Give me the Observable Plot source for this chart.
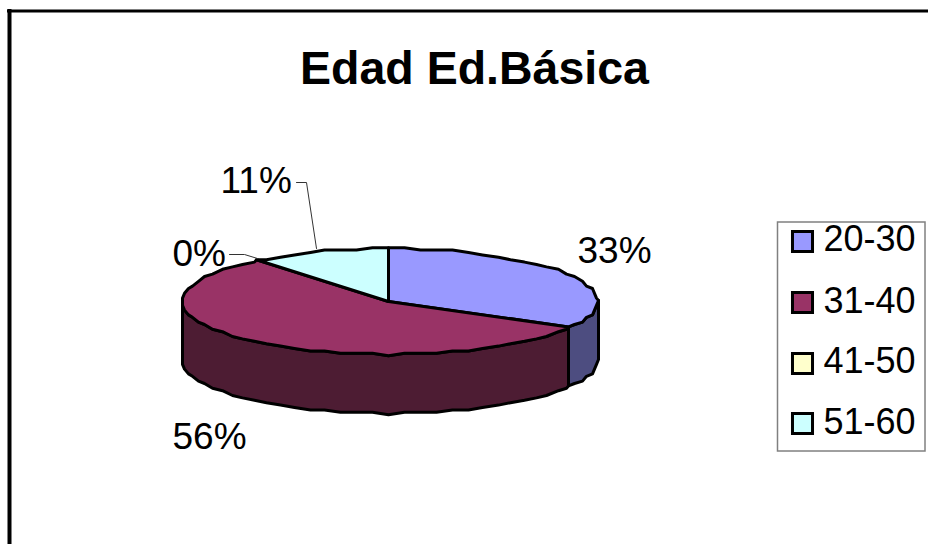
<!DOCTYPE html>
<html>
<head>
<meta charset="utf-8">
<style>html,body{margin:0;padding:0;background:#fff}svg{display:block}</style>
<script src="https://cdn.jsdelivr.net/npm/d3@7"></script>
<script src="https://cdn.jsdelivr.net/npm/@observablehq/plot@0.6"></script>
</head>
<body>
<div id="chart"></div>
<script>
const title = "Edad Ed.Básica";
const ageGroups = ["20-30", "31-40", "41-50", "51-60"];
const counts = [3, 5, 0, 1];

const topColors = ["#9999ff", "#993366", "#ffffcc", "#ccffff"];
const wallColors = ["#4d4d80", "#4d1c33", "#80805f", "#668080"];

// Pie drum geometry, in plot units; the drum sits slightly off its hub
const drum = {cx: 388, cy: 301, rxRight: 209, rxLeft: 206, ry: 53, depth: 59};
const font = "Liberation Sans";

// The outline is a coarse polygon on a rough grid, as in old office-suite charts
const snap = (v, step) => Math.round(v / step) * step;
function rim(deg) {
  const a = deg * Math.PI / 180;
  const sin = Math.sin(a);
  return {
    x: snap(drum.cx + (sin > 0 ? drum.rxRight : drum.rxLeft) * sin, 2),
    y: snap(drum.cy - drum.ry * Math.cos(a), 2.4)
  };
}
function arc(from, to) {
  const pts = [rim(from)];
  const step = 4.5;
  for (let d = Math.ceil(from / step) * step; d < to; d += step) {
    if (d > from) pts.push(rim(d));
  }
  pts.push(rim(to));
  return pts;
}

// Cumulative angles, clockwise from twelve o'clock
const total = d3.sum(counts);
let running = 0;
const slices = counts.map((count, i) => {
  const start = running / total * 360;
  running += count;
  return {i, count, start, end: running / total * 360};
});

const apex = {x: drum.cx, y: drum.cy};
const topFace = s => [apex, ...arc(s.start, s.end), apex];
function wallFace(s) {
  const from = Math.max(s.start, 90), to = Math.min(s.end, 270);
  if (to <= from) return null;
  const upper = arc(from, to);
  const lower = upper.map(p => ({x: p.x, y: p.y + drum.depth})).reverse();
  return [...upper, ...lower, upper[0]];
}

const faceStyle = {x: "x", y: "y", stroke: "#000", strokeWidth: 3, strokeLinejoin: "round"};
const wallMarks = slices.map(s => {
  const pts = wallFace(s);
  return pts && Plot.line(pts, {...faceStyle, fill: wallColors[s.i]});
}).filter(Boolean);
const topMarks = slices.filter(s => s.count > 0)
  .map(s => Plot.line(topFace(s), {...faceStyle, fill: topColors[s.i]}));

// Percentage labels, placed around the drum
const labelSpots = [
  {x: 577, y: 262}, {x: 172, y: 448}, {x: 172, y: 265}, {x: 220, y: 192}
];
const pct = d3.format(".0%");
const labels = counts.map((count, i) => ({text: pct(count / total), ...labelSpots[i]}));

// Leader lines for the two narrow slices
const leaders = [
  [{x: 296, y: 182}, {x: 306, y: 182}, {x: 316, y: 248}],
  [{x: 229, y: 254}, {x: 244, y: 254}, {x: 257, y: 258}]
];

// Legend rows
const legendRows = ageGroups.map((age, i) => ({
  age,
  swatchY: [241, 302, 363, 423][i],
  baseline: [250, 312, 372, 433][i]
}));

const chart = Plot.plot({
  width: 928, height: 544,
  margin: 0,
  x: {domain: [0, 928], range: [0, 928], axis: null},
  y: {domain: [0, 544], range: [0, 544], axis: null},
  color: {domain: ageGroups, range: topColors},
  style: {background: "#fff"},
  marks: [
    // Outer frame, running off the right and bottom edges
    Plot.ruleY([10.5], {x1: 7, x2: 928, stroke: "#000", strokeWidth: 3}),
    Plot.ruleX([9], {y1: 9, y2: 544, stroke: "#000", strokeWidth: 4}),

    Plot.text([title], {
      x: 474, y: 83, text: d => d, fontFamily: font, fontWeight: "bold",
      fontSize: 46.5, fill: "#000", lineAnchor: "bottom"
    }),

    ...wallMarks,
    ...topMarks,

    ...leaders.map(l => Plot.line(l, {x: "x", y: "y", stroke: "#333", strokeWidth: 1})),
    Plot.text(labels, {
      x: "x", y: "y", text: "text", fontFamily: font, fontSize: 37,
      fill: "#000", textAnchor: "start", lineAnchor: "bottom"
    }),

    // Legend
    Plot.rect([{}], {x1: 777.5, x2: 925, y1: 222, y2: 451, fill: "#fff", stroke: "#808080", strokeWidth: 1.5}),
    Plot.dot(legendRows, {
      x: 802, y: "swatchY", symbol: "square", r: 11.3,
      fill: "age", stroke: "#000", strokeWidth: 3
    }),
    Plot.text(legendRows, {
      x: 823, y: "baseline", text: "age", fontFamily: font, fontSize: 36,
      fill: "#000", textAnchor: "start", lineAnchor: "bottom"
    })
  ]
});
document.getElementById("chart").append(chart);
</script>
</body>
</html>
